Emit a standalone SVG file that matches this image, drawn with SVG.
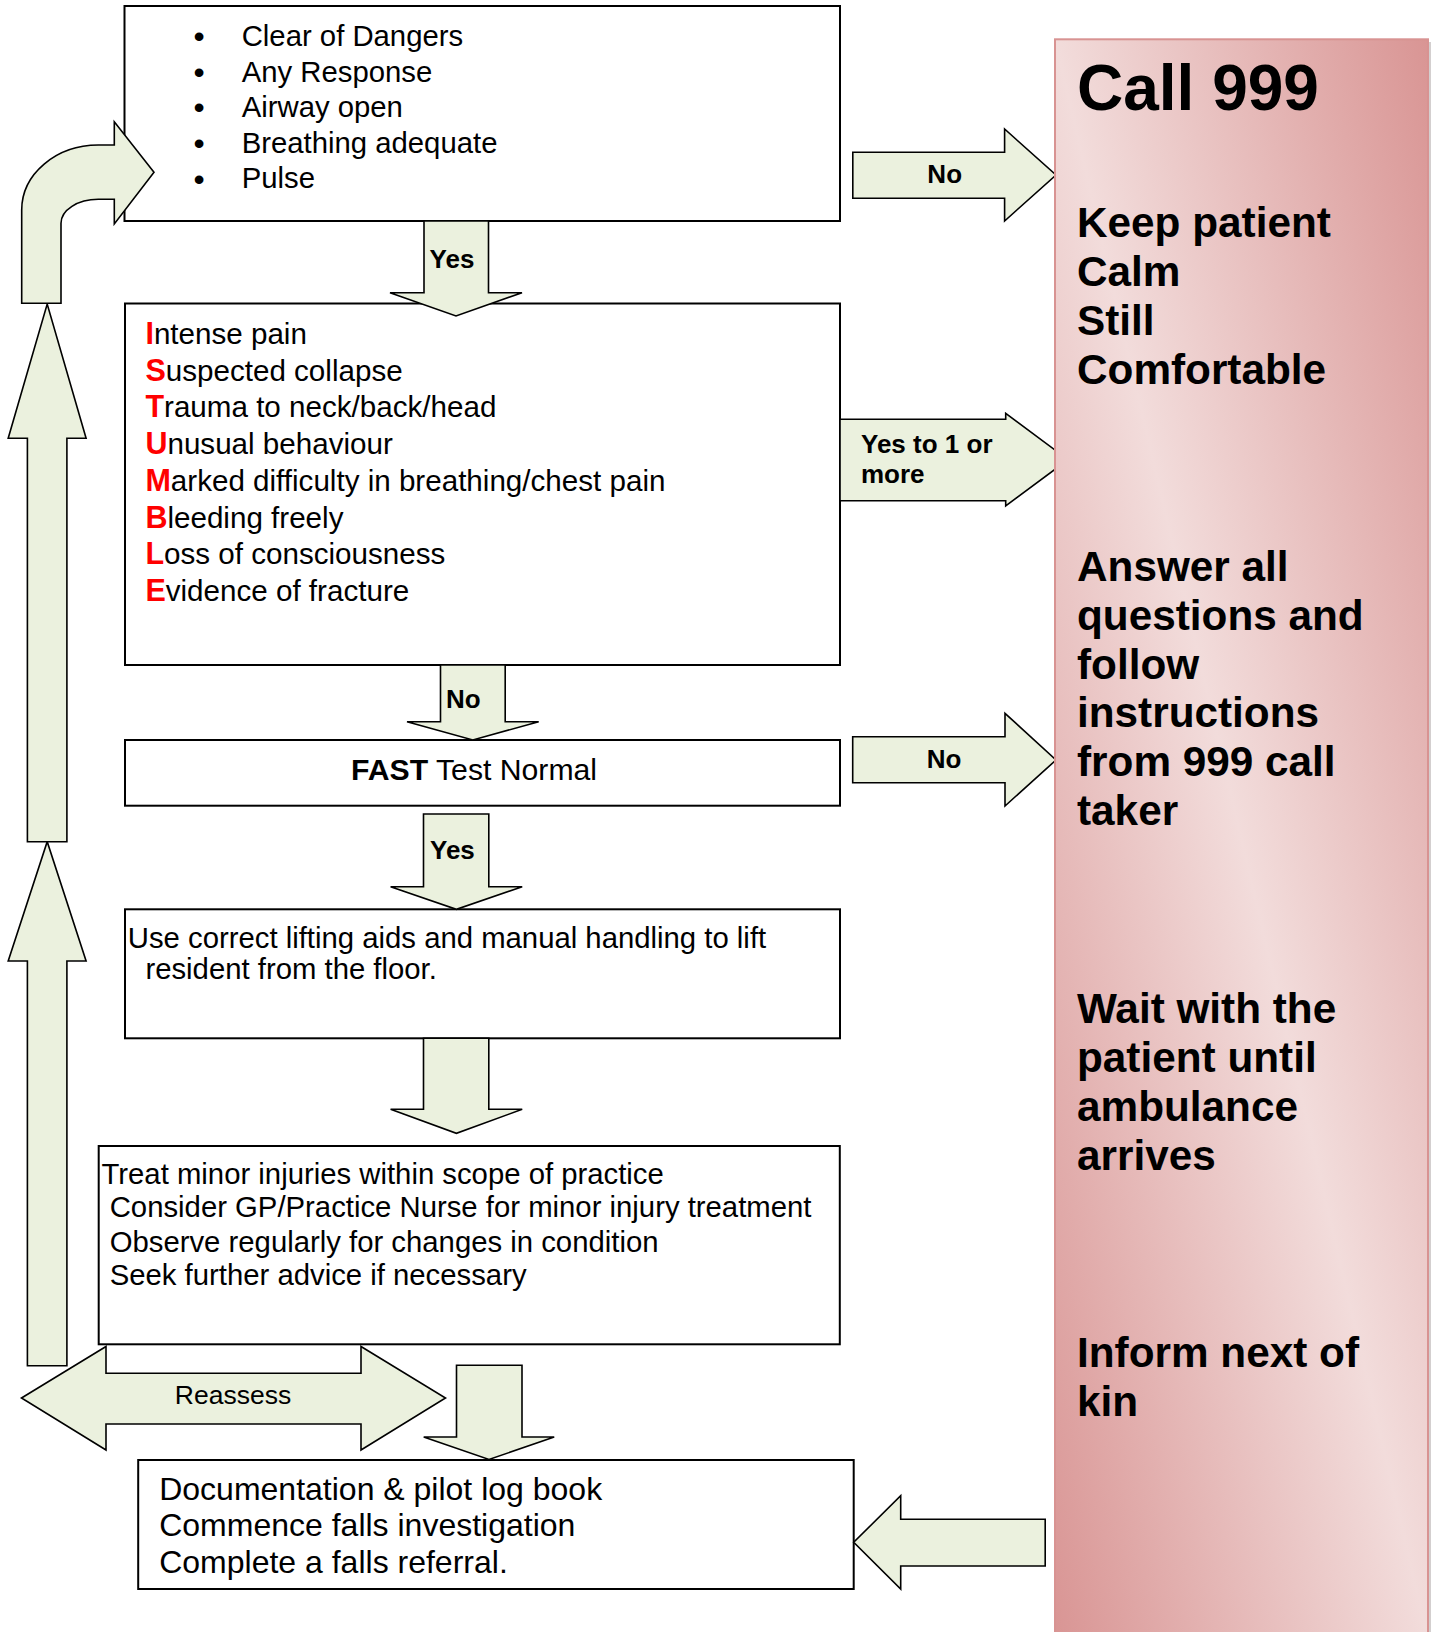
<svg xmlns="http://www.w3.org/2000/svg" width="1436" height="1632" viewBox="0 0 1436 1632">
<style>
.box{fill:#ffffff;stroke:#000000;stroke-width:2}
.arrow{fill:#ebf1de;stroke:#000000;stroke-width:1.6;stroke-linejoin:miter}
text{font-family:"Liberation Sans",Arial,Helvetica,sans-serif;fill:#000000}
.t{font-size:29.3px}
.s{font-size:29.6px}
.bul{font-size:32px}
.d{font-size:32px}
.lbl{font-size:26px;font-weight:bold}
.re{font-size:26.5px}
.red{fill:#ff0000;font-weight:bold;font-size:30.5px}
.b{font-weight:bold}
.p{font-size:42.3px;font-weight:bold}
.h{font-size:64px;font-weight:bold}
</style>
<defs>
<linearGradient id="pink" x1="1" y1="0" x2="0" y2="1">
<stop offset="0" stop-color="#d99594"/>
<stop offset="0.5" stop-color="#f2dcdb"/>
<stop offset="1" stop-color="#d99594"/>
</linearGradient>
</defs>
<rect width="1436" height="1632" fill="#ffffff"/>

<g id="node-check">
<rect class="box" x="124.5" y="6" width="715.5" height="215"/>
<text class="bul" x="199" y="47" text-anchor="middle">•</text>
<text class="bul" x="199" y="83" text-anchor="middle">•</text>
<text class="bul" x="199" y="118" text-anchor="middle">•</text>
<text class="bul" x="199" y="154" text-anchor="middle">•</text>
<text class="bul" x="199" y="189.6" text-anchor="middle">•</text>
<text class="t" x="241.7" y="45.7">Clear of Dangers</text>
<text class="t" x="241.7" y="81.7">Any Response</text>
<text class="t" x="241.7" y="116.7">Airway open</text>
<text class="t" x="241.7" y="152.7">Breathing adequate</text>
<text class="t" x="241.7" y="188.3">Pulse</text>
</g>

<g id="node-istumble">
<rect class="box" x="125" y="303.5" width="715" height="361.5"/>
<text class="s" x="145.4" y="344"><tspan class="red">I</tspan>ntense pain</text>
<text class="s" x="145.4" y="380.5"><tspan class="red">S</tspan>uspected collapse</text>
<text class="s" x="145.4" y="417"><tspan class="red">T</tspan>rauma to neck/back/head</text>
<text class="s" x="145.4" y="453.8"><tspan class="red">U</tspan>nusual behaviour</text>
<text class="s" x="145.4" y="490.5"><tspan class="red">M</tspan>arked difficulty in breathing/chest pain</text>
<text class="s" x="145.4" y="527.6"><tspan class="red">B</tspan>leeding freely</text>
<text class="s" x="145.4" y="564.3"><tspan class="red">L</tspan>oss of consciousness</text>
<text class="s" x="145.4" y="601"><tspan class="red">E</tspan>vidence of fracture</text>
</g>

<g id="node-fast">
<rect class="box" x="125" y="740" width="715" height="65.7"/>
<text x="351" y="779.5" font-size="30.2"><tspan class="b">FAST</tspan> Test Normal</text>
</g>

<g id="node-lift">
<rect class="box" x="125" y="909.3" width="715" height="129"/>
<text class="t" x="127.8" y="948.3">Use correct lifting aids and manual handling to lift</text>
<text class="t" x="145.4" y="979.3">resident from the floor.</text>
</g>

<g id="node-treat">
<rect class="box" x="98.7" y="1146" width="741.1" height="198.3"/>
<text class="t" x="101.5" y="1183.5">Treat minor injuries within scope of practice</text>
<text class="t" x="109.7" y="1217">Consider GP/Practice Nurse for minor injury treatment</text>
<text class="t" x="109.7" y="1251.8">Observe regularly for changes in condition</text>
<text class="t" x="109.7" y="1285.3">Seek further advice if necessary</text>
</g>

<g id="node-documentation">
<rect class="box" x="138.2" y="1460" width="715.5" height="129"/>
<text class="d" x="159.2" y="1499.8">Documentation &amp; pilot log book</text>
<text class="d" x="159.2" y="1536">Commence falls investigation</text>
<text class="d" x="159.2" y="1573">Complete a falls referral.</text>
</g>

<g id="connectors">
<path class="arrow" d="M424,221 L488.5,221 L488.5,292.7 L522,292.7 L456,316 L390,292.7 L424,292.7 Z"/>
<text class="lbl" x="452" y="267.7" text-anchor="middle">Yes</text>

<path class="arrow" d="M440.5,665 L505.2,665 L505.2,721.7 L538.7,721.7 L472.8,740 L407,721.7 L440.5,721.7 Z"/>
<text class="lbl" x="446" y="708.3">No</text>

<path class="arrow" d="M423.5,814 L488.8,814 L488.8,886.7 L522.2,886.7 L456.4,909.3 L390.6,886.7 L423.5,886.7 Z"/>
<text class="lbl" x="430" y="859.3">Yes</text>

<path class="arrow" d="M423.5,1038.3 L488.8,1038.3 L488.8,1109.3 L522.2,1109.3 L456.4,1133.3 L390.6,1109.3 L423.5,1109.3 Z"/>

<path class="arrow" d="M21.5,1398 L106,1346.5 L106,1373.3 L361,1373.3 L361,1346.5 L445.5,1398 L361,1450 L361,1424 L106,1424 L106,1450 Z"/>
<text class="re" x="233" y="1403.5" text-anchor="middle">Reassess</text>

<path class="arrow" d="M456.5,1365.3 L522,1365.3 L522,1437 L554.2,1437 L489,1459.5 L423.7,1437 L456.5,1437 Z"/>

<path class="arrow" d="M1045.2,1519.3 L1045.2,1566 L900.7,1566 L900.7,1589 L853.7,1542.3 L900.7,1495.7 L900.7,1519.3 Z"/>

<path class="arrow" d="M27.4,1365.7 L27.4,961 L8.2,961 L47.2,841.7 L86.1,961 L66.9,961 L66.9,1365.7 Z"/>
<path class="arrow" d="M27.4,841.7 L27.4,438.3 L8.2,438.3 L47.2,304 L86.1,438.3 L66.9,438.3 L66.9,841.7 Z"/>

<path class="arrow" d="M21.7,303.3 L21.7,210 A76.6,65 0 0 1 98.3,145 L114.3,145 L114.3,121.7 L154,172.3 L114.3,224 L114.3,199.3 L98.3,199.3 A37.3,24 0 0 0 61,223.3 L61,303.3 Z"/>

<path class="arrow" d="M852.8,152.3 L1004.6,152.3 L1004.6,129 L1056,175 L1004.6,221 L1004.6,198.3 L852.8,198.3 Z"/>
<text class="lbl" x="944.7" y="182.5" text-anchor="middle">No</text>

<path class="arrow" d="M840,419.3 L1005.7,419.3 L1005.7,413.3 L1068,459.7 L1005.7,506 L1005.7,500.7 L840,500.7 Z"/>
<text class="lbl" x="861" y="452.7">Yes to 1 or</text>
<text class="lbl" x="861" y="483.3">more</text>

<path class="arrow" d="M852.7,736.7 L1005,736.7 L1005,713.3 L1056,760 L1005,806 L1005,782.7 L852.7,782.7 Z"/>
<text class="lbl" x="944" y="768" text-anchor="middle">No</text>
</g>

<g id="node-call999">
<rect x="1058" y="42" width="373" height="1600" fill="#a8a0a0" opacity="0.5"/>
<rect x="1055" y="39.3" width="373" height="1600" fill="url(#pink)" stroke="#d89392" stroke-width="2"/>
<text class="h" x="1077" y="110">Call 999</text>
<text class="p" x="1077" y="237">Keep patient</text>
<text class="p" x="1077" y="286">Calm</text>
<text class="p" x="1077" y="335">Still</text>
<text class="p" x="1077" y="384">Comfortable</text>
<text class="p" x="1077" y="580.7">Answer all</text>
<text class="p" x="1077" y="629.6">questions and</text>
<text class="p" x="1077" y="678.5">follow</text>
<text class="p" x="1077" y="727.4">instructions</text>
<text class="p" x="1077" y="776.3">from 999 call</text>
<text class="p" x="1077" y="825.2">taker</text>
<text class="p" x="1077" y="1023">Wait with the</text>
<text class="p" x="1077" y="1072">patient until</text>
<text class="p" x="1077" y="1121">ambulance</text>
<text class="p" x="1077" y="1170">arrives</text>
<text class="p" x="1077" y="1366.7">Inform next of</text>
<text class="p" x="1077" y="1415.5">kin</text>
</g>
</svg>
